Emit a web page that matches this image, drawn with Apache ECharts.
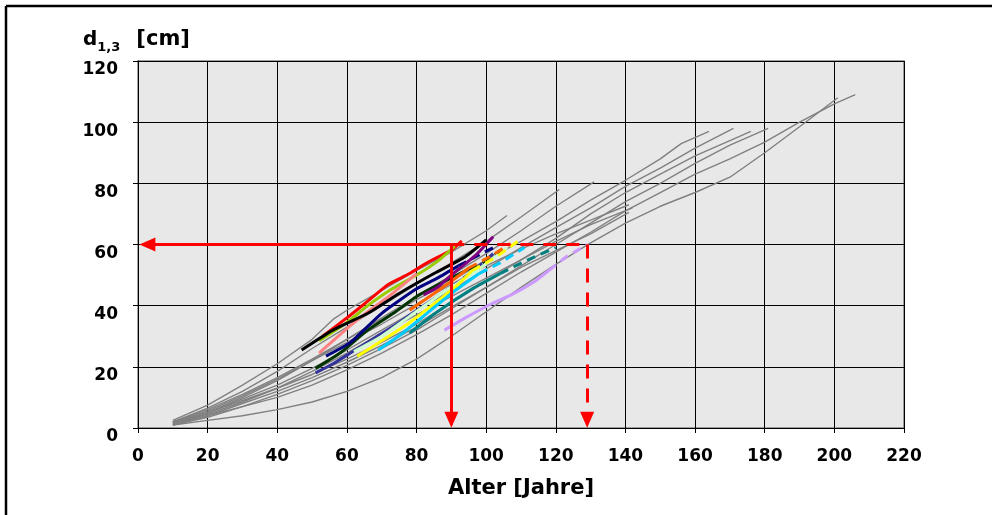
<!DOCTYPE html>
<html><head><meta charset="utf-8">
<script src="https://cdn.jsdelivr.net/npm/echarts@6/dist/echarts.min.js"></script>
<style>html,body{margin:0;padding:0;background:#fff;overflow:hidden}#c{width:992px;height:515px}</style>
</head><body><div id="c"></div>
<script>
// ---- axis ticks ----
const xTicks = [0,20,40,60,80,100,120,140,160,180,200,220];
const yTicks = [0,20,40,60,80,100,120];

// ---- gray reference curves [age, d1.3] ----
const g01 = [[10,2.5],[20,7.5],[30,14],[40,21],[50,29],[56,35.5],[60,38.5],[70,45],[80,51.5],[90,57.5],[100,64.5],[106,69.5]];
const g02 = [[10,2],[20,6.5],[30,12],[40,18.5],[50,26],[60,33],[70,40],[80,47],[90,54],[100,61],[110,69],[121,78]];
const g03 = [[10,1.5],[20,5],[30,10],[40,15.5],[50,22],[60,29],[70,36],[80,43],[90,50],[100,57],[110,64.5],[120,72.5],[131,80.5]];
const g04 = [[10,2],[20,5.5],[30,10.5],[40,16],[50,22],[60,28],[70,34],[80,40.5],[90,47],[100,53],[110,58.5],[120,63.5],[130,68],[141,73]];
const g05 = [[10,1.5],[20,4.5],[30,8.5],[40,13],[50,18.5],[60,24.5],[70,31],[80,37],[90,43],[100,49],[110,55],[120,61],[130,66.5],[142,72]];
const g06 = [[10,1],[20,4],[30,8],[40,12],[50,16.5],[60,21.5],[70,27],[80,33],[90,39.5],[100,46],[110,52.5],[120,58],[130,63.5],[141,70.5]];
const g07 = [[10,2],[20,6],[30,11],[40,16.5],[50,22.5],[60,29],[70,35.5],[80,42],[90,48],[100,55],[110,61],[120,67.5],[130,74.5],[140,81],[150,88],[156,93],[164,97]];
const g08 = [[10,1.5],[20,5],[30,9.5],[40,14],[50,19.5],[60,25.5],[70,32],[80,38.5],[90,45],[100,52],[110,59],[120,65.5],[130,72],[140,79],[150,85],[160,91.5],[171,98]];
const g09 = [[10,2],[20,5],[30,9],[40,13],[50,17.5],[60,22.5],[70,28],[80,34],[90,41],[100,48],[110,55],[120,62],[130,70],[140,77],[150,83],[160,89],[170,94],[176,97]];
const g10 = [[10,1],[20,3.5],[30,7],[40,11],[50,15.5],[60,20.5],[70,26],[80,32],[90,39],[100,46],[110,53],[120,60],[130,67],[140,74],[150,80],[160,86.5],[170,92.5],[181,98]];
const g11 = [[10,1],[20,2.5],[30,4],[40,6],[50,8.5],[60,12],[70,16.5],[80,22.5],[90,30],[100,38],[110,46],[120,53.5],[130,60.5],[140,67],[150,72.5],[160,77],[170,82],[180,90],[190,98.5],[201,108]];
const g12 = [[10,1.5],[20,4],[30,7],[40,10],[50,14],[60,19],[70,24.5],[80,30.5],[90,37],[100,44],[110,51],[120,57.5],[130,64],[140,71],[150,77],[160,83],[170,88],[180,93.5],[190,100],[200,106],[206,109]];
const grayCurves = [g01,g02,g03,g04,g05,g06,g07,g08,g09,g10,g11,g12];

// ---- coloured sample curves: solid (measured) and dashed (extrapolated) ----
const redSolid      = [[53,30],[60,36],[66,41.5],[72,47],[78,50.5],[83,54],[90,58.2],[93,61.2]];
const oliveSolid    = [[52,28.5],[60,34.5],[66,40],[73,45.5],[80,50],[86,54.5],[91,59.5]];
const salmonSolid   = [[52,24.5],[56,28.5],[61,33.5],[66,38],[72,43],[80,50.5]];
const blackSolid    = [[47,25.5],[56,32],[66,37.5],[75,44],[85,50.5],[94,56],[100,61.5]];
const purpleSolid   = [[82,43.5],[86,46],[90,50],[97,56.5],[102,62.5]];
const navySolid     = [[54,23.5],[61,28],[70,37.5],[80,45.5],[86,49],[92,53]];
const navyDash      = [[92,53],[99,57.2],[103,59.5]];
const dkgreenSolid  = [[51,19.5],[58,24.5],[66,32],[74,38],[80,43],[89,48.5],[95,52]];
const dkgreenDash   = [[95,52],[100,54.5],[104,58]];
const slateSolid    = [[51,18],[56,21],[61,24.5],[68,29.5],[75,34.5],[82,40],[90,46]];
const slateDash     = [[90,46],[97,52],[102,57]];
const orangeSolid   = [[78,38.5],[85,44],[90,48],[95,52.3]];
const orangeDash    = [[95,52.3],[101,56],[107,60.3]];
const yellowSolid   = [[63,23.5],[70,28.5],[78,34.5],[86,41.5],[92,47],[96,51.5]];
const yellowDash    = [[96,51.5],[103,56],[109,61]];
const ltgreenSolid  = [[62,25],[70,30],[78,36.5],[86,43],[92,47.5],[98,52]];
const ltgreenDash   = [[98,52],[106,59]];
const cyanSolid     = [[69,25.5],[76,31],[83,37.5],[90,44],[98,50.5]];
const cyanDash      = [[98,50.5],[104,54],[111,59]];
const tealSolid     = [[78,31],[86,38],[96,45.5],[104,50.5]];
const tealDash      = [[104,50.5],[112,55],[120,59]];
const lavSolid      = [[88,32],[94,36],[101,40.3],[108,44],[114,48],[118,51.5]];
const lavDash       = [[118,51.5],[123,56],[129,60]];

// ---- reading arrows ----
const targetD = 60;
const ageSolid = 90;
const ageDashed = 129;
const arrowTipAge = 2.7;
const arrowTipD = 2.7;

const colored = [
  ['#ff0000', redSolid, null],
  ['#99cc00', oliveSolid, null],
  ['#ff8080', salmonSolid, null],
  ['#333399', slateSolid, slateDash],
  ['#003300', dkgreenSolid, dkgreenDash],
  ['#ccffcc', ltgreenSolid, ltgreenDash],
  ['#ffff00', yellowSolid, yellowDash],
  ['#ff6600', orangeSolid, orangeDash],
  ['#00ccff', cyanSolid, cyanDash],
  ['#008080', tealSolid, tealDash],
  ['#cc99ff', lavSolid, lavDash],
  ['#000080', navySolid, navyDash],
  ['#800080', purpleSolid, null],
  ['#000000', blackSolid, null]
];

const FONT = '"DejaVu Sans", "Liberation Sans", Arial, sans-serif';
const series = [];
grayCurves.forEach(d => series.push({
  type:'line', data:d, symbol:'none', silent:true, z:2,
  lineStyle:{color:'#808080', width:1.4}
}));
colored.forEach(([c, s, dsh]) => {
  series.push({type:'line', data:s, symbol:'none', silent:true, z:3, smooth:0.2,
    lineStyle:{color:c, width:3}});
  if (dsh) series.push({type:'line', data:dsh, symbol:'none', silent:true, z:3,
    lineStyle:{color:c, width:3, type:[9,6]}});
});
// solid arrows
series.push({type:'line', data:[], z:5, silent:true,
  markLine:{silent:true, animation:false, symbol:['none','triangle'], symbolSize:[14,16],
    label:{show:false}, lineStyle:{color:'#ff0000', width:3, type:'solid'},
    data:[
      [{coord:[ageSolid,targetD]},{coord:[arrowTipAge,targetD]}],
      [{coord:[ageSolid,targetD]},{coord:[ageSolid,arrowTipD]}]
    ]}});
// dashed arrows
series.push({type:'line', data:[], z:5, silent:true,
  markLine:{silent:true, animation:false, symbol:['none','none'],
    label:{show:false}, lineStyle:{color:'#ff0000', width:3, type:[13,10]},
    data:[[{coord:[ageSolid,targetD]},{coord:[ageDashed,targetD]}]]}});
series.push({type:'line', data:[], z:5, silent:true,
  markLine:{silent:true, animation:false, symbol:['none','triangle'], symbolSize:[14,16],
    label:{show:false}, lineStyle:{color:'#ff0000', width:3, type:[14,10]},
    data:[[{coord:[ageDashed,targetD]},{coord:[ageDashed,arrowTipD]}]]}});

const chart = echarts.init(document.getElementById('c'), null, {renderer:'canvas'});
chart.setOption({
  animation:false,
  backgroundColor:'#ffffff',
  title:{
    left:83, top:26, padding:0,
    text:'{a|d}{b|1,3}{c|[cm]}',
    textStyle:{
      rich:{
        a:{fontFamily:FONT, fontWeight:'bold', fontSize:20, color:'#000', lineHeight:24},
        b:{fontFamily:FONT, fontWeight:'bold', fontSize:13, color:'#000', verticalAlign:'bottom', lineHeight:28},
        c:{fontFamily:FONT, fontWeight:'bold', fontSize:21, color:'#000', lineHeight:24, padding:[0,0,0,16]}
      }
    }
  },
  graphic:[
    {type:'line', silent:true, z:100, shape:{x1:6, y1:6, x2:992, y2:6},
      style:{stroke:'#000', lineWidth:2.5}},
    {type:'line', silent:true, z:100, shape:{x1:6, y1:6, x2:6, y2:515},
      style:{stroke:'#000', lineWidth:2.5}}
  ],
  grid:{left:138, right:88, top:61, bottom:87, show:true,
    backgroundColor:'#e8e8e8', borderColor:'#808080', borderWidth:1.5},
  xAxis:{
    type:'value', min:xTicks[0], max:xTicks[xTicks.length-1], interval:20,
    name:'Alter [Jahre]', nameLocation:'middle', nameGap:50,
    nameTextStyle:{fontFamily:FONT, fontWeight:'bold', fontSize:21, color:'#000'},
    axisLine:{show:true, onZero:false, lineStyle:{color:'#000', width:1}},
    axisTick:{show:true, length:5, lineStyle:{color:'#000'}},
    splitLine:{show:true, lineStyle:{color:'#000', width:1}},
    axisLabel:{fontFamily:FONT, fontWeight:'bold', fontSize:17, color:'#000', margin:20}
  },
  yAxis:{
    type:'value', min:yTicks[0], max:yTicks[yTicks.length-1], interval:20,
    axisLine:{show:true, onZero:false, lineStyle:{color:'#000', width:1}},
    axisTick:{show:true, length:5, lineStyle:{color:'#000'}},
    splitLine:{show:true, lineStyle:{color:'#000', width:1}},
    axisLabel:{fontFamily:FONT, fontWeight:'bold', fontSize:17, color:'#000', margin:20,
      verticalAlign:'top', lineHeight:12, padding:[3,0,0,0]}
  },
  series:series
});
</script></body></html>
